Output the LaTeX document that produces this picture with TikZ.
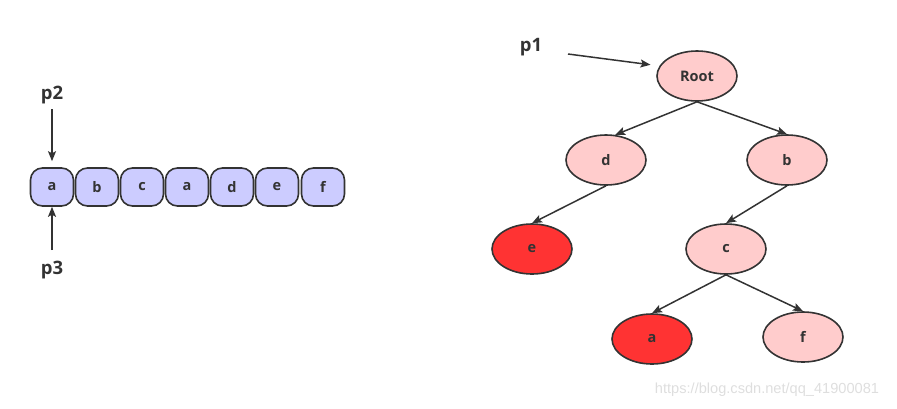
\documentclass[tikz,border=0pt]{standalone}
\usepackage{fontspec}
\setmainfont{Open Sans}
\newfontfamily\markfont{Liberation Sans}
\usetikzlibrary{arrows.meta, shapes.geometric}
\definecolor{linegray}{HTML}{333333}
\definecolor{cellblue}{HTML}{CCCCFF}
\definecolor{nodepink}{HTML}{FFCCCC}
\definecolor{nodered}{HTML}{FF3333}

\begin{document}
\begin{tikzpicture}[x=1pt, y=-1pt, >={Stealth[length=10pt, width=8pt, inset=2pt]},
                cell style/.style={draw=linegray, line width=1.6pt, fill=cellblue,
                    rounded corners=12pt, minimum width=43pt, minimum height=38pt,
                    font=\bfseries\fontsize{14.5}{16}\selectfont, text=linegray},
                tree style/.style={ellipse, draw=linegray, line width=1.6pt, fill=nodepink,
                    minimum width=80pt, minimum height=50pt, inner sep=0pt,
                    font=\bfseries\fontsize{14.5}{16}\selectfont, text=linegray},
                leaf style/.style={tree style, fill=nodered},
                pointer style/.style={font=\bfseries\fontsize{18.5}{21}\selectfont, text=linegray},
                edge style/.style={->, draw=linegray, line width=1.5pt}
            ]

            \useasboundingbox (0, 0) rectangle (897, 408);

            % the array
            \node[cell style] (a1) at (52, 187) {a};
            \node[cell style] (a2) at (97, 187) {b};
            \node[cell style] (a3) at (142, 187) {c};
            \node[cell style] (a4) at (187, 187) {a};
            \node[cell style] (a5) at (232, 187) {d};
            \node[cell style] (a6) at (277, 187) {e};
            \node[cell style] (a7) at (323, 187) {f};

            \node[pointer style] (p2) at (52, 95) {p2};
            \node[pointer style] (p3) at (52, 270) {p3};
            \coordinate (p2 tail) at (52, 109);
            \coordinate (p3 tail) at (52, 250);
            \draw[edge style, shorten >=6pt] (p2 tail) -- (a1.north);
            \draw[edge style] (p3 tail) -- (a1.south);

            % the tree
            \node[tree style] (root) at (697, 76) {Root};
            \node[tree style] (d) at (606, 160) {d};
            \node[tree style] (b) at (787, 160) {b};
            \node[leaf style] (e) at (532, 249) {e};
            \node[tree style] (c) at (726, 249) {c};
            \node[leaf style] (a) at (652, 339) {a};
            \node[tree style] (f) at (803, 337) {f};

            \node[pointer style] (p1) at (531, 47) {p1};
            \coordinate (p1 tail) at (568, 54);
            \draw[edge style, shorten >=9pt] (p1 tail) -- (root.165);

            \draw[edge style] (root.south) -- (d.70);
            \draw[edge style] (root.south) -- (b.north);
            \draw[edge style] (d.south) -- (e.north);
            \draw[edge style] (b.south) -- (c.north);
            \draw[edge style] (c.south) -- (a.north);
            \draw[edge style] (c.south) -- (f.north);

            \node[text=black!13, font=\markfont\fontsize{14.6}{16}\selectfont] (watermark) at (767, 390) {https://blog.csdn.net/qq\_41900081};
        \end{tikzpicture}
\end{document}
